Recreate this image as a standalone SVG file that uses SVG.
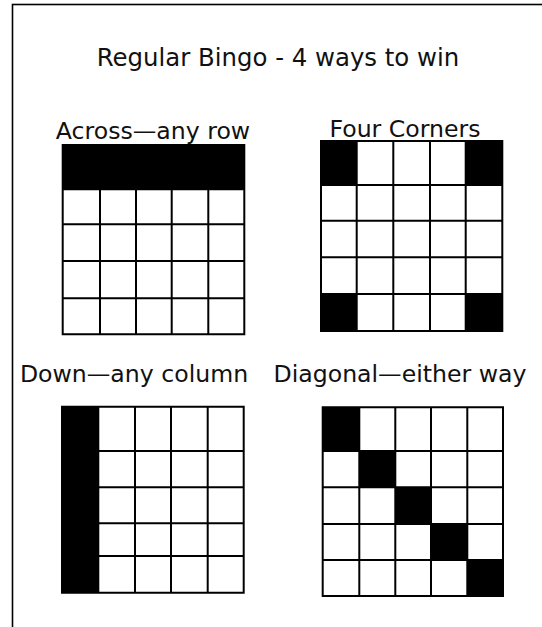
<svg xmlns="http://www.w3.org/2000/svg" width="542" height="627" viewBox="0 0 542 627">
<style>
.t{font-family:"DejaVu Sans",Verdana,sans-serif;font-size:23.6px;fill:#111}
.h{font-size:24.4px}
.g{fill:none;stroke:#000;stroke-width:2}
.c{fill:#000}
</style>
<rect x="0" y="0" width="542" height="627" fill="#fff"/>
<rect x="12.5" y="4.5" width="600" height="700" fill="none" stroke="#000" stroke-width="1.6"/>
<g id="title"><text class="t h" x="278" y="66" text-anchor="middle">Regular Bingo - 4 ways to win</text></g>
<g id="across">
<text class="t" x="153" y="139" text-anchor="middle">Across—any row</text>
<rect x="62.7" y="145" width="181.6" height="189.3" fill="#fff"/>
<rect class="c" x="62.7" y="145" width="181.6" height="44.3"/>
<path class="g" d="M62.7 145H244.3V334.3H62.7Z M100 189.3V334.3 M136 189.3V334.3 M171.7 189.3V334.3 M208.3 189.3V334.3 M62.7 189.3H244.3 M62.7 224.3H244.3 M62.7 261H244.3 M62.7 298.3H244.3"/>
</g>
<g id="corners">
<text class="t" x="405" y="137" text-anchor="middle">Four Corners</text>
<rect x="321" y="141" width="181.3" height="190" fill="#fff"/>
<rect class="c" x="321" y="141" width="35.7" height="44"/>
<rect class="c" x="465.7" y="141" width="36.6" height="44"/>
<rect class="c" x="321" y="294" width="35.7" height="37"/>
<rect class="c" x="465.7" y="294" width="36.6" height="37"/>
<path class="g" d="M321 141H502.3V331H321Z M356.7 141V331 M393.3 141V331 M430 141V331 M465.7 141V331 M321 185H502.3 M321 220.7H502.3 M321 257.3H502.3 M321 294H502.3"/>
</g>
<g id="down">
<text class="t" x="134" y="382" text-anchor="middle">Down—any column</text>
<rect x="62" y="406.7" width="181.7" height="186" fill="#fff"/>
<rect class="c" x="62" y="406.7" width="36.3" height="186"/>
<path class="g" d="M62 406.7H243.7V592.7H62Z M98.3 406.7V592.7 M135 406.7V592.7 M171 406.7V592.7 M207.7 406.7V592.7 M62 451H243.7 M62 487.3H243.7 M62 523.3H243.7 M62 556H243.7"/>
</g>
<g id="diagonal">
<text class="t" x="400" y="382" text-anchor="middle">Diagonal—either way</text>
<rect x="322.7" y="407.3" width="180.3" height="188.7" fill="#fff"/>
<rect class="c" x="322.7" y="407.3" width="36.6" height="43.7"/>
<rect class="c" x="359.3" y="451" width="36" height="36.3"/>
<rect class="c" x="395.3" y="487.3" width="35.7" height="36.7"/>
<rect class="c" x="431" y="524" width="36.3" height="36"/>
<rect class="c" x="467.3" y="560" width="35.7" height="36"/>
<path class="g" d="M322.7 407.3H503V596H322.7Z M359.3 407.3V596 M395.3 407.3V596 M431 407.3V596 M467.3 407.3V596 M322.7 451H503 M322.7 487.3H503 M322.7 524H503 M322.7 560H503"/>
</g>
</svg>
